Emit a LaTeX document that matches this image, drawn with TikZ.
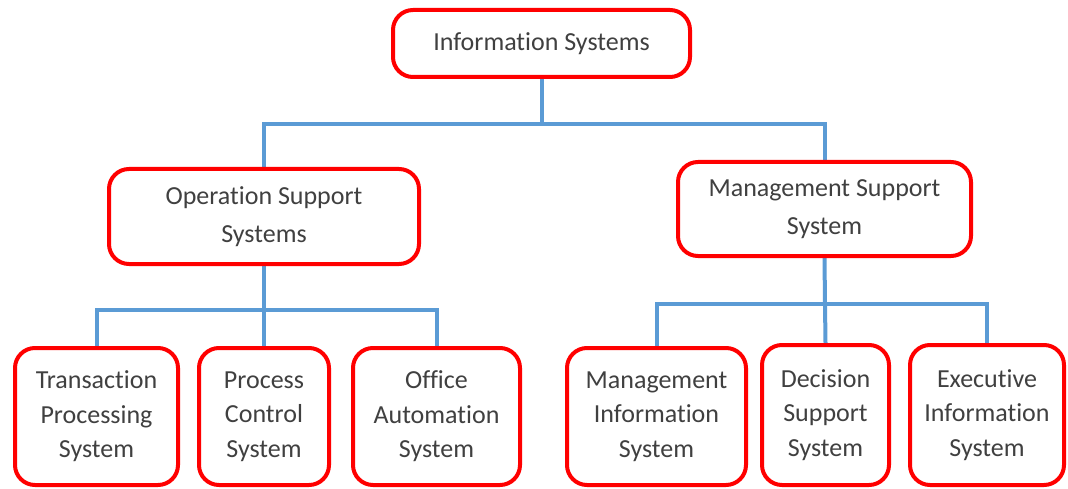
\documentclass[tikz,border=0pt]{standalone}
\usepackage{fontspec}
\setmainfont{Carlito}[Ligatures=NoCommon]
\usetikzlibrary{backgrounds}
\definecolor{boxred}{HTML}{FF0000}
\definecolor{connblue}{HTML}{5B9BD5}
\definecolor{txtgray}{HTML}{404040}
\begin{document}
\begin{tikzpicture}[x=1pt,y=-1pt,
  sysbox/.style={draw=boxred, line width=4pt, rounded corners=20pt, fill=white,
    align=center, text=txtgray, font=\fontsize{26}{34.5}\selectfont, inner sep=0pt},
  widebox/.style={sysbox, font=\fontsize{26}{38.5}\selectfont},
  conn/.style={draw=connblue, line width=4pt}]
\useasboundingbox (0,0) rectangle (1068,489);
\node[sysbox, minimum width=297pt, minimum height=67pt] (top) at (541.5,43.5) {Information Systems};
\node[widebox, minimum width=310pt, minimum height=95pt] (oss) at (264,216.5) {Operation Support\\Systems};
\node[widebox, minimum width=293pt, minimum height=94pt] (mss) at (824.5,209) {Management Support\\System};
\node[sysbox, minimum width=163pt, minimum height=137pt] (tps) at (96.5,416.5) {Transaction\\Processing\\System};
\node[sysbox, minimum width=130pt, minimum height=137pt] (pcs) at (264,416.5) {Process\\Control\\System};
\node[sysbox, minimum width=167pt, minimum height=137pt] (oas) at (436.5,416.5) {Office\\Automation\\System};
\node[sysbox, minimum width=179pt, minimum height=137pt] (mis) at (656.5,416.5) {Management\\Information\\System};
\node[sysbox, minimum width=127pt, minimum height=140pt] (dss) at (825.5,415) {Decision\\Support\\System};
\node[sysbox, minimum width=154pt, minimum height=140pt] (eis) at (987,415) {Executive\\Information\\System};
\coordinate (j1) at (541.5,124);
\coordinate (j2) at (264,310);
\coordinate (j3) at (825,304);
\begin{scope}[on background layer]
\draw[conn] (top.south) -- (j1);
\draw[conn] (j1) -| (oss.north);
\draw[conn] (j1) -| (mss.north);
\draw[conn] (oss.south) -- (j2);
\draw[conn] (j2) -| (tps.north);
\draw[conn] (j2) -- (pcs.north);
\draw[conn] (j2) -| (oas.north);
\draw[conn] (mss.south) -- (j3);
\draw[conn] (j3) -| (mis.north);
\draw[conn] (j3) -- (dss.north);
\draw[conn] (j3) -| (eis.north);
\end{scope}
\end{tikzpicture}
\end{document}
